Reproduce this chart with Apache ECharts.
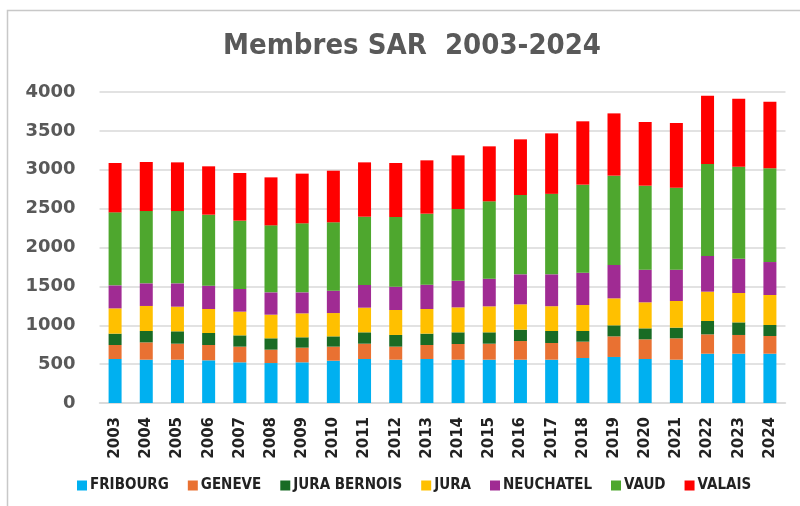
<!DOCTYPE html>
<html>
<head>
<meta charset="utf-8">
<script src="https://cdn.jsdelivr.net/npm/echarts@6/dist/echarts.min.js"></script>
<style>
  html, body { margin: 0; padding: 0; background: #fff; }
  #main { width: 800px; height: 506px; }
</style>
</head>
<body>
<div id="main"></div>
<script>
// années
const years = ['2003', '2004', '2005', '2006', '2007', '2008', '2009', '2010', '2011', '2012', '2013',
  '2014', '2015', '2016', '2017', '2018', '2019', '2020', '2021', '2022', '2023', '2024']

// membres par section
const fribourg = [566, 557, 557, 549, 523, 514, 523, 544, 566, 557, 566, 557, 557, 557, 557, 579, 592, 566, 557, 634, 634, 634]
const geneve = [180, 223, 206, 197, 202, 172, 189, 181, 197, 168, 180, 202, 206, 240, 215, 210, 265, 253, 275, 249, 241, 228]
const juraBernois = [146, 146, 159, 154, 145, 146, 133, 132, 146, 150, 146, 150, 146, 146, 154, 137, 142, 141, 137, 172, 162, 141]
const jura = [325, 322, 317, 309, 305, 304, 308, 300, 317, 321, 317, 321, 334, 326, 319, 334, 347, 335, 343, 377, 378, 386]
const neuchatel = [296, 291, 300, 300, 291, 287, 270, 288, 292, 300, 313, 343, 356, 386, 410, 416, 429, 420, 403, 459, 441, 424]
const vaud = [939, 930, 930, 913, 879, 862, 888, 879, 878, 896, 913, 922, 995, 1020, 1035, 1132, 1149, 1080, 1054, 1183, 1184, 1205]
const valais = [635, 631, 626, 622, 613, 617, 639, 664, 699, 695, 686, 690, 707, 716, 778, 815, 801, 819, 832, 879, 874, 857]

const yTicks = [0, 500, 1000, 1500, 2000, 2500, 3000, 3500, 4000]

const seriesList = [
  { name: 'FRIBOURG', data: fribourg, color: '#00b0f0' },
  { name: 'GENEVE', data: geneve, color: '#e97132' },
  { name: 'JURA BERNOIS', data: juraBernois, color: '#196b24' },
  { name: 'JURA', data: jura, color: '#ffc000' },
  { name: 'NEUCHATEL', data: neuchatel, color: '#a02b93' },
  { name: 'VAUD', data: vaud, color: '#4ea72e' },
  { name: 'VALAIS', data: valais, color: '#ff0000' }
]

const textGrey = '#595959'
const narrow = "'Liberation Sans Narrow', 'DejaVu Sans Condensed', sans-serif"

const chart = echarts.init(document.getElementById('main'))
chart.setOption({
  animation: false,
  backgroundColor: '#fff',
  graphic: [{
    type: 'rect',
    shape: { x: 7.5, y: 10.5, width: 800, height: 510 },
    style: { fill: 'none', stroke: '#c8c8c8', lineWidth: 1.5 },
    silent: true
  }],
  title: {
    text: 'Membres SAR  2003-2024',
    left: 407,
    top: 27,
    textAlign: 'center',
    textStyle: { fontFamily: narrow, fontWeight: 'bold', fontSize: 29, color: textGrey }
  },
  legend: {
    bottom: 8,
    left: 72,
    itemWidth: 10,
    itemHeight: 10,
    itemGap: 19,
    icon: 'rect',
    textStyle: { fontFamily: narrow, fontWeight: 'bold', fontSize: 15, color: '#222', padding: [0, 0, 0, -2] }
  },
  grid: { left: 99.5, right: 14.5, top: 92, bottom: 103, containLabel: false },
  xAxis: {
    type: 'category',
    data: years,
    axisTick: { show: false },
    axisLine: { lineStyle: { color: '#d9d9d9', width: 1.5 } },
    axisLabel: {
      rotate: 90,
      margin: 14,
      fontFamily: 'DejaVu Sans',
      fontWeight: 'bold',
      fontSize: 15,
      color: '#222',
      interval: 0
    }
  },
  yAxis: {
    type: 'value',
    min: yTicks[0],
    max: yTicks[yTicks.length - 1],
    interval: 500,
    axisLine: { show: false },
    axisTick: { show: false },
    splitLine: { lineStyle: { color: '#d9d9d9', width: 1.5 } },
    axisLabel: {
      margin: 24,
      fontFamily: 'DejaVu Sans',
      fontWeight: 'bold',
      fontSize: 18,
      color: textGrey,
      formatter: v => String(v)
    }
  },
  series: seriesList.map(s => ({
    name: s.name,
    type: 'bar',
    stack: 'total',
    data: s.data,
    barWidth: 13,
    itemStyle: { color: s.color }
  }))
})
</script>
</body>
</html>
